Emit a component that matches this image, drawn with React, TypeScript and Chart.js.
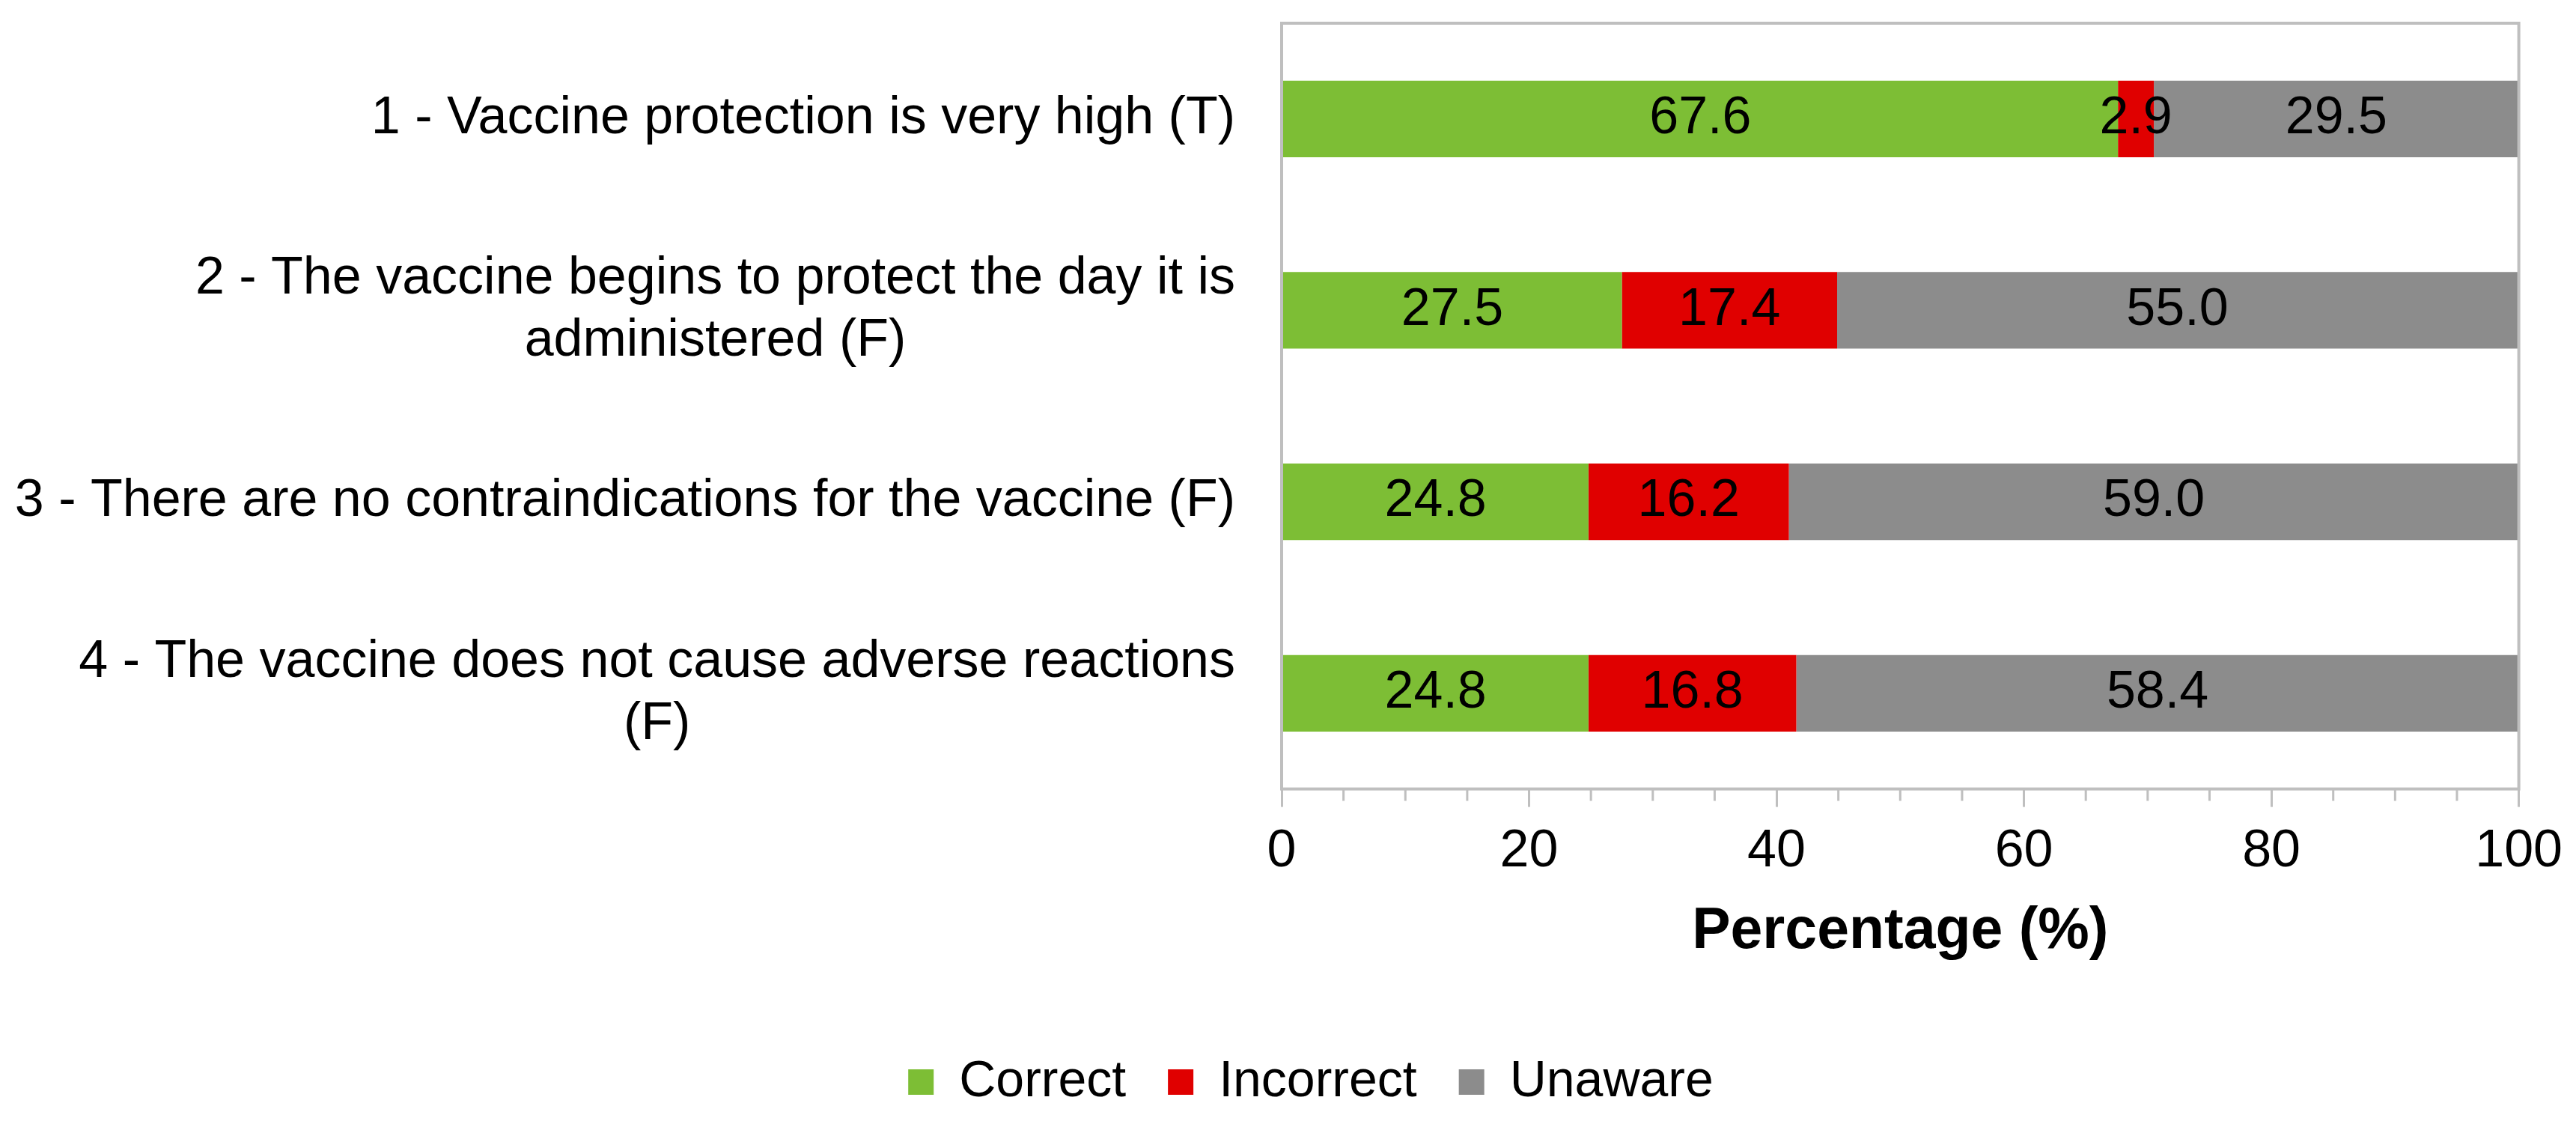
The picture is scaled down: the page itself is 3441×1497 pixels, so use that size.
import React, { useEffect, useRef } from "react";
import { Chart, registerables } from "chart.js";

Chart.register(...registerables);

const FONT = '"Liberation Sans", Arial, Helvetica, sans-serif';

const categories: string[][] = [
  ["1 - Vaccine protection is very high (T)"],
  ["2 - The vaccine begins to protect the day it is", "administered (F)"],
  ["3 - There are no contraindications for the vaccine (F)"],
  ["4 - The vaccine does not cause adverse reactions", "(F)"],
];
const seriesNames = ["Correct", "Incorrect", "Unaware"];
const correctValues = [67.6, 27.5, 24.8, 24.8];
const incorrectValues = [2.9, 17.4, 16.2, 16.8];
const unawareValues = [29.5, 55.0, 59.0, 58.4];
const seriesColors = ["#7DBE35", "#E00000", "#8C8C8C"];
const xMin = 0;
const xMax = 100;
const xMajorStep = 20;
const xMinorStep = 5;
const xTitle = "Percentage (%)";

const FRAME_COLOR = "#BFBFBF";
const TEXT_SIZE = 70;
const PAD_LEFT = 134;
const PLOT_LEFT = 1712;

const customDraw = {
  id: "customDraw",
  afterDatasetsDraw(chart: any) {
    const { ctx } = chart;
    ctx.save();
    ctx.font = `${TEXT_SIZE}px ${FONT}`;
    ctx.fillStyle = "#000000";
    ctx.textAlign = "center";
    ctx.textBaseline = "middle";
    chart.data.datasets.forEach((ds: any, di: number) => {
      const meta = chart.getDatasetMeta(di);
      meta.data.forEach((el: any, i: number) => {
        const v = ds.data[i] as number;
        const p = el.getCenterPoint();
        ctx.fillText(v.toFixed(1), p.x, p.y);
      });
    });
    ctx.restore();
  },
  afterDraw(chart: any) {
    const { ctx, chartArea: a } = chart;
    const xs = chart.scales.x;
    const ys = chart.scales.y;
    ctx.save();
    // frame
    ctx.strokeStyle = FRAME_COLOR;
    ctx.lineWidth = 4;
    ctx.strokeRect(a.left, a.top, a.right - a.left, a.bottom - a.top);
    // minor ticks
    ctx.lineWidth = 3;
    ctx.beginPath();
    for (let v = xMin; v <= xMax; v += xMinorStep) {
      if (v % xMajorStep === 0) continue;
      const px = xs.getPixelForValue(v);
      ctx.moveTo(px, a.bottom);
      ctx.lineTo(px, a.bottom + 16);
    }
    ctx.stroke();
    // category labels (block right-aligned, lines centered)
    ctx.font = `${TEXT_SIZE}px ${FONT}`;
    ctx.fillStyle = "#000000";
    ctx.textAlign = "center";
    ctx.textBaseline = "middle";
    const lineH = 83;
    categories.forEach((lines, i) => {
      const y = ys.getPixelForTick(i);
      let w = 0;
      lines.forEach((l) => {
        w = Math.max(w, ctx.measureText(l).width);
      });
      const cx = a.left - 62 - w / 2;
      lines.forEach((l, j) => {
        ctx.fillText(l, cx, y + (j - (lines.length - 1) / 2) * lineH);
      });
    });
    ctx.restore();
  },
};

export default function App() {
  const ref = useRef<HTMLCanvasElement | null>(null);
  useEffect(() => {
    document.body.style.margin = "0";
    document.body.style.overflow = "hidden";
    if (!ref.current) return;
    const values = [correctValues, incorrectValues, unawareValues];
    const chart = new Chart(ref.current, {
      type: "bar",
      data: {
        labels: categories as any,
        datasets: seriesNames.map((name, i) => ({
          label: name,
          data: values[i],
          backgroundColor: seriesColors[i],
          borderWidth: 0,
          barPercentage: 0.4,
          categoryPercentage: 1.0,
        })),
      },
      options: {
        indexAxis: "y",
        animation: false,
        responsive: true,
        maintainAspectRatio: false,
        layout: { padding: { top: 31, right: 73, bottom: 8, left: PAD_LEFT } },
        scales: {
          x: {
            type: "linear",
            stacked: true,
            min: xMin,
            max: xMax,
            grid: {
              display: true,
              drawOnChartArea: false,
              drawTicks: true,
              tickLength: 24,
              tickColor: FRAME_COLOR,
              tickWidth: 3,
              color: FRAME_COLOR,
              lineWidth: 3,
            },
            border: { display: false },
            ticks: {
              stepSize: xMajorStep,
              autoSkip: false,
              maxRotation: 0,
              padding: 18,
              color: "#000000",
              font: { family: FONT, size: TEXT_SIZE },
            },
            title: {
              display: true,
              text: xTitle,
              color: "#000000",
              font: { family: FONT, size: 77, weight: "bold" },
              padding: { top: 1, bottom: 64 },
            },
          },
          y: {
            type: "category",
            stacked: true,
            grid: { display: false },
            border: { display: false },
            ticks: { display: false },
            afterFit: (s: any) => {
              s.width = PLOT_LEFT - PAD_LEFT;
            },
          },
        },
        plugins: {
          legend: {
            position: "bottom",
            labels: {
              color: "#000000",
              font: { family: FONT, size: 68 },
              boxWidth: 34,
              boxHeight: 34,
              padding: 56,
            },
          },
          tooltip: { enabled: false },
        },
      },
      plugins: [customDraw],
    } as any);
    return () => chart.destroy();
  }, []);
  return (
    <div style={{ width: 3441, height: 1497, position: "relative" }}>
      <canvas ref={ref} />
    </div>
  );
}
